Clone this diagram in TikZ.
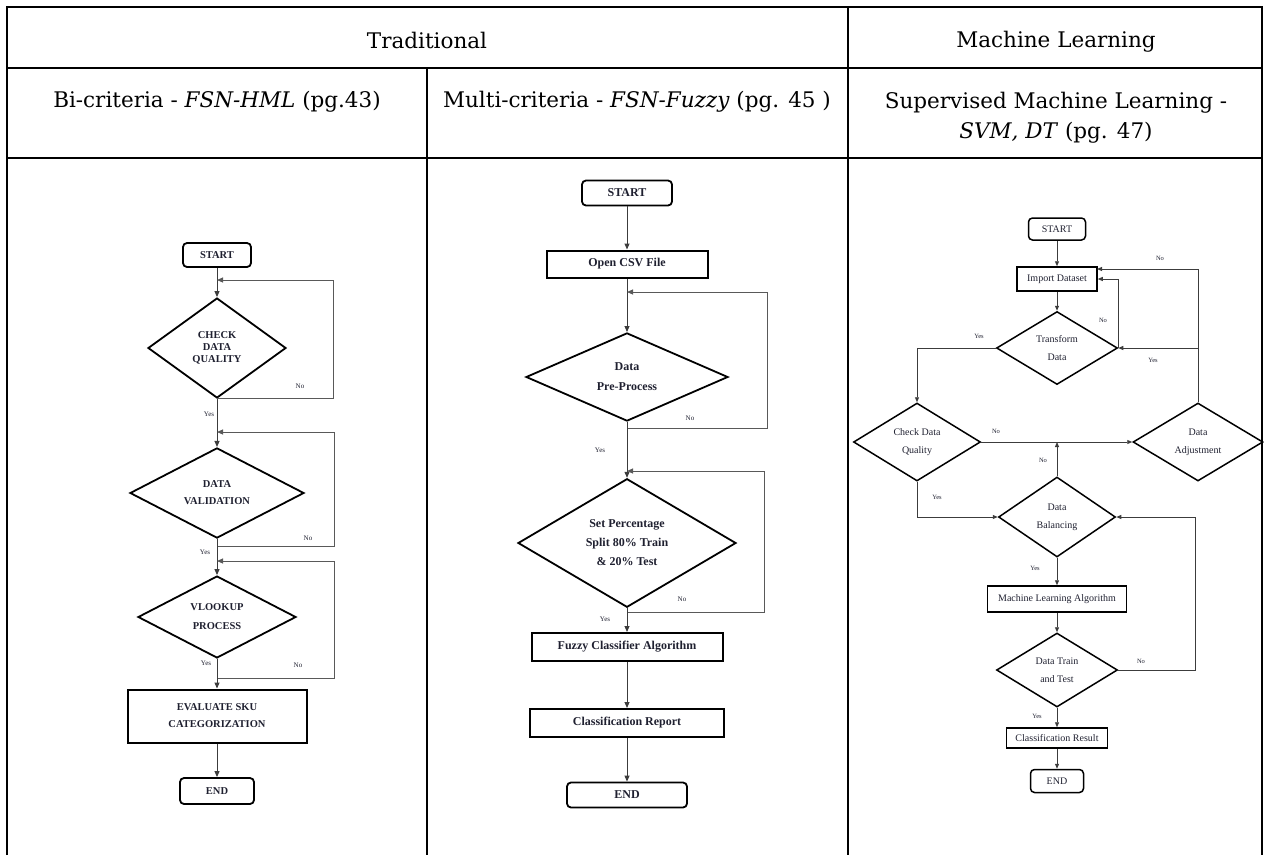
\documentclass[tikz,border=0pt]{standalone}
\usepackage{fontspec}
\setmainfont{Liberation Serif}
\newfontfamily\hdrfont{DejaVu Serif}
\usetikzlibrary{arrows.meta,shapes.geometric,calc}
\definecolor{ink}{HTML}{1F2030}
\definecolor{rule}{HTML}{000000}
\definecolor{wire}{HTML}{3C3C3C}
\tikzset{
  >={Triangle[length=6pt,width=5pt]},
  every node/.style={text=ink},
  grid/.style={draw=rule,line width=1.6pt},
  hdr/.style={font=\hdrfont\fontsize{21.5}{30}\selectfont,align=center,text=black,inner sep=0pt},
  term/.style={draw=black,line width=1.8pt,rounded corners=4pt,inner sep=0pt},
  proc/.style={draw=black,line width=2pt,inner sep=0pt,align=center},
  decide/.style={diamond,draw=black,line width=1.8pt,inner sep=0pt,align=center},
  arrow/.style={->,draw=wire,line width=1pt},
  back/.style={->,draw=wire!85,line width=1pt},
  lbl/.style={font=\fontsize{7}{8}\selectfont,inner sep=0pt},
  colA/.style={font=\bfseries\fontsize{10.5}{12}\selectfont},
  colB/.style={font=\bfseries\fontsize{12}{14}\selectfont},
  colC/.style={font=\fontsize{10}{12}\selectfont,line width=1.5pt},
  tinyarrow/.style={->,>={Triangle[length=5pt,width=4pt]},draw=wire,line width=0.9pt},
}

\begin{document}
\begin{tikzpicture}[x=1pt,y=-1pt]
  \useasboundingbox (0,0) rectangle (1264,855);
  \draw[grid] (7,855) -- (7,7) -- (1262,7) -- (1262,855);
  \draw[grid] (7,68) -- (1262,68);
  \draw[grid] (7,158) -- (1262,158);
  \draw[grid] (427,68) -- (427,855);
  \draw[grid] (848,7) -- (848,855);
  \node[hdr] (h-trad) at (427,40) {Traditional};
  \node[hdr] (h-ml) at (1056,42) {Machine Learning};
  \node[hdr] (h-bi) at (217,102) {Bi-criteria - \textit{FSN-HML} (pg.43)};
  \node[hdr] (h-multi) at (637,102) {Multi-criteria - \textit{FSN-Fuzzy} (pg. 45 )};
  \node[hdr] (h-sup) at (1056,118) {Supervised Machine Learning -\\\textit{SVM, DT} (pg. 47)};

  \node[term,colA,minimum width=68pt,minimum height=24pt] (a-start) at (217,255) {START};
  \node[decide,colA,minimum width=138pt,minimum height=100pt] (a-qual) at (217,348) {CHECK\\DATA\\QUALITY};
  \node[decide,colA,minimum width=174pt,minimum height=88pt] (a-valid) at (217,493) {DATA\\[5pt]VALIDATION};
  \node[decide,colA,minimum width=158pt,minimum height=82pt] (a-vlook) at (217,617) {VLOOKUP\\[7pt]PROCESS};
  \node[proc,colA,minimum width=179pt,minimum height=53pt] (a-eval) at (217,716) {EVALUATE SKU\\[5pt]CATEGORIZATION};
  \node[term,colA,minimum width=74pt,minimum height=26pt] (a-end) at (217,791) {END};
  \coordinate (a-j1) at (217,280);
  \coordinate (a-j2) at (217,432);
  \coordinate (a-k2) at (217,546);
  \coordinate (a-j3) at (217,561);
  \coordinate (a-k3) at (217,678);
  \draw[arrow] (a-start) -- (a-qual);
  \draw[back] (a-qual.south) -- ++(116,0) |- (a-j1);
  \draw[arrow] (a-qual) -- (a-valid);
  \draw[back] (a-k2) -- ++(117,0) |- (a-j2);
  \draw[arrow] (a-valid) -- (a-vlook);
  \draw[back] (a-k3) -- ++(117,0) |- (a-j3);
  \draw[arrow] (a-vlook) -- (a-eval);
  \draw[arrow] (a-eval) -- (a-end);
  \node[lbl] (a-no1) at (300,386) {No};
  \node[lbl] (a-yes1) at (209,414) {Yes};
  \node[lbl] (a-no2) at (308,538) {No};
  \node[lbl] (a-yes2) at (205,552) {Yes};
  \node[lbl] (a-no3) at (298,665) {No};
  \node[lbl] (a-yes3) at (206,663) {Yes};

  \node[term,colB,minimum width=90pt,minimum height=25pt] (b-start) at (627,193) {START};
  \node[proc,colB,minimum width=161pt,minimum height=27pt] (b-csv) at (627,264) {Open CSV File};
  \node[decide,colB,minimum width=202pt,minimum height=85pt] (b-prep) at (627,377) {Data\\[6pt]Pre-Process};
  \node[decide,colB,minimum width=218pt,minimum height=120pt] (b-split) at (627,543) {Set Percentage\\[5pt]Split 80\% Train\\[5pt]\& 20\% Test};
  \node[proc,colB,minimum width=191pt,minimum height=28pt] (b-fuzzy) at (627,647) {Fuzzy Classifier Algorithm};
  \node[proc,colB,minimum width=194pt,minimum height=28pt] (b-report) at (627,723) {Classification Report};
  \node[term,colB,minimum width=120pt,minimum height=25pt] (b-end) at (627,795) {END};
  \coordinate (b-j1) at (627,292);
  \coordinate (b-k1) at (627,428);
  \coordinate (b-j2) at (627,471);
  \coordinate (b-k2) at (627,612);
  \draw[arrow] (b-start) -- (b-csv);
  \draw[arrow] (b-csv) -- (b-prep);
  \draw[back] (b-k1) -- ++(140,0) |- (b-j1);
  \draw[arrow] (b-prep) -- (b-split);
  \draw[back] (b-k2) -- ++(137,0) |- (b-j2);
  \draw[arrow] (b-split) -- (b-fuzzy);
  \draw[arrow] (b-fuzzy) -- (b-report);
  \draw[arrow] (b-report) -- (b-end);
  \node[lbl] (b-no1) at (690,418) {No};
  \node[lbl] (b-yes1) at (600,450) {Yes};
  \node[lbl] (b-no2) at (682,599) {No};
  \node[lbl] (b-yes2) at (605,619) {Yes};

  \node[term,colC,minimum width=57pt,minimum height=22pt] (c-start) at (1057,229) {START};
  \node[proc,colC,minimum width=80pt,minimum height=24pt] (c-import) at (1057,279) {Import Dataset};
  \node[decide,colC,minimum width=121pt,minimum height=73pt] (c-trans) at (1057,348) {Transform\\[6pt]Data};
  \node[decide,colC,minimum width=127pt,minimum height=78pt] (c-check) at (917,442) {Check Data\\[6pt]Quality};
  \node[decide,colC,minimum width=130pt,minimum height=78pt] (c-adjust) at (1198,442) {Data\\[6pt]Adjustment};
  \node[decide,colC,minimum width=117pt,minimum height=80pt] (c-bal) at (1057,517) {Data\\[6pt]Balancing};
  \node[proc,colC,minimum width=139pt,minimum height=26pt] (c-ml) at (1057,599) {Machine Learning Algorithm};
  \node[decide,colC,minimum width=121pt,minimum height=74pt] (c-tt) at (1057,670) {Data Train\\[6pt]and Test};
  \node[proc,colC,minimum width=101pt,minimum height=20pt] (c-res) at (1057,738) {Classification Result};
  \node[term,colC,minimum width=53pt,minimum height=23pt] (c-end) at (1057,781) {END};
  \coordinate (c-top) at (1097,269);
  \draw[tinyarrow] (c-start) -- (c-import);
  \draw[tinyarrow] (c-import) -- (c-trans);
  \draw[tinyarrow] (c-adjust.north) |- (c-top);
  \draw[tinyarrow] (c-adjust.north |- c-trans.east) -- (c-trans.east);
  \draw[tinyarrow] (c-trans.east) |- (c-import.east);
  \draw[tinyarrow] (c-trans.west) -| (c-check.north);
  \draw[tinyarrow] (c-check.east) -- (c-adjust.west);
  \draw[tinyarrow] (c-bal.north) -- (c-bal.north |- c-check.east);
  \draw[tinyarrow] (c-check.south) |- (c-bal.west);
  \draw[tinyarrow] (c-bal) -- (c-ml);
  \draw[tinyarrow] (c-ml) -- (c-tt);
  \draw[tinyarrow] (c-tt.east) -- ++(77,0) |- (c-bal.east);
  \draw[tinyarrow] (c-tt) -- (c-res);
  \draw[tinyarrow] (c-res) -- (c-end);
  \node[lbl,font=\fontsize{6.5}{7}\selectfont] (c-no1) at (1160,258) {No};
  \node[lbl,font=\fontsize{6.5}{7}\selectfont] (c-no2) at (1103,320) {No};
  \node[lbl,font=\fontsize{6.5}{7}\selectfont] (c-yes1) at (1153,360) {Yes};
  \node[lbl,font=\fontsize{6.5}{7}\selectfont] (c-yes2) at (979,336) {Yes};
  \node[lbl,font=\fontsize{6.5}{7}\selectfont] (c-no3) at (996,431) {No};
  \node[lbl,font=\fontsize{6.5}{7}\selectfont] (c-no4) at (1043,460) {No};
  \node[lbl,font=\fontsize{6.5}{7}\selectfont] (c-yes3) at (937,497) {Yes};
  \node[lbl,font=\fontsize{6.5}{7}\selectfont] (c-yes4) at (1035,568) {Yes};
  \node[lbl,font=\fontsize{6.5}{7}\selectfont] (c-no5) at (1141,661) {No};
  \node[lbl,font=\fontsize{6.5}{7}\selectfont] (c-yes5) at (1037,716) {Yes};
\end{tikzpicture}
\end{document}
